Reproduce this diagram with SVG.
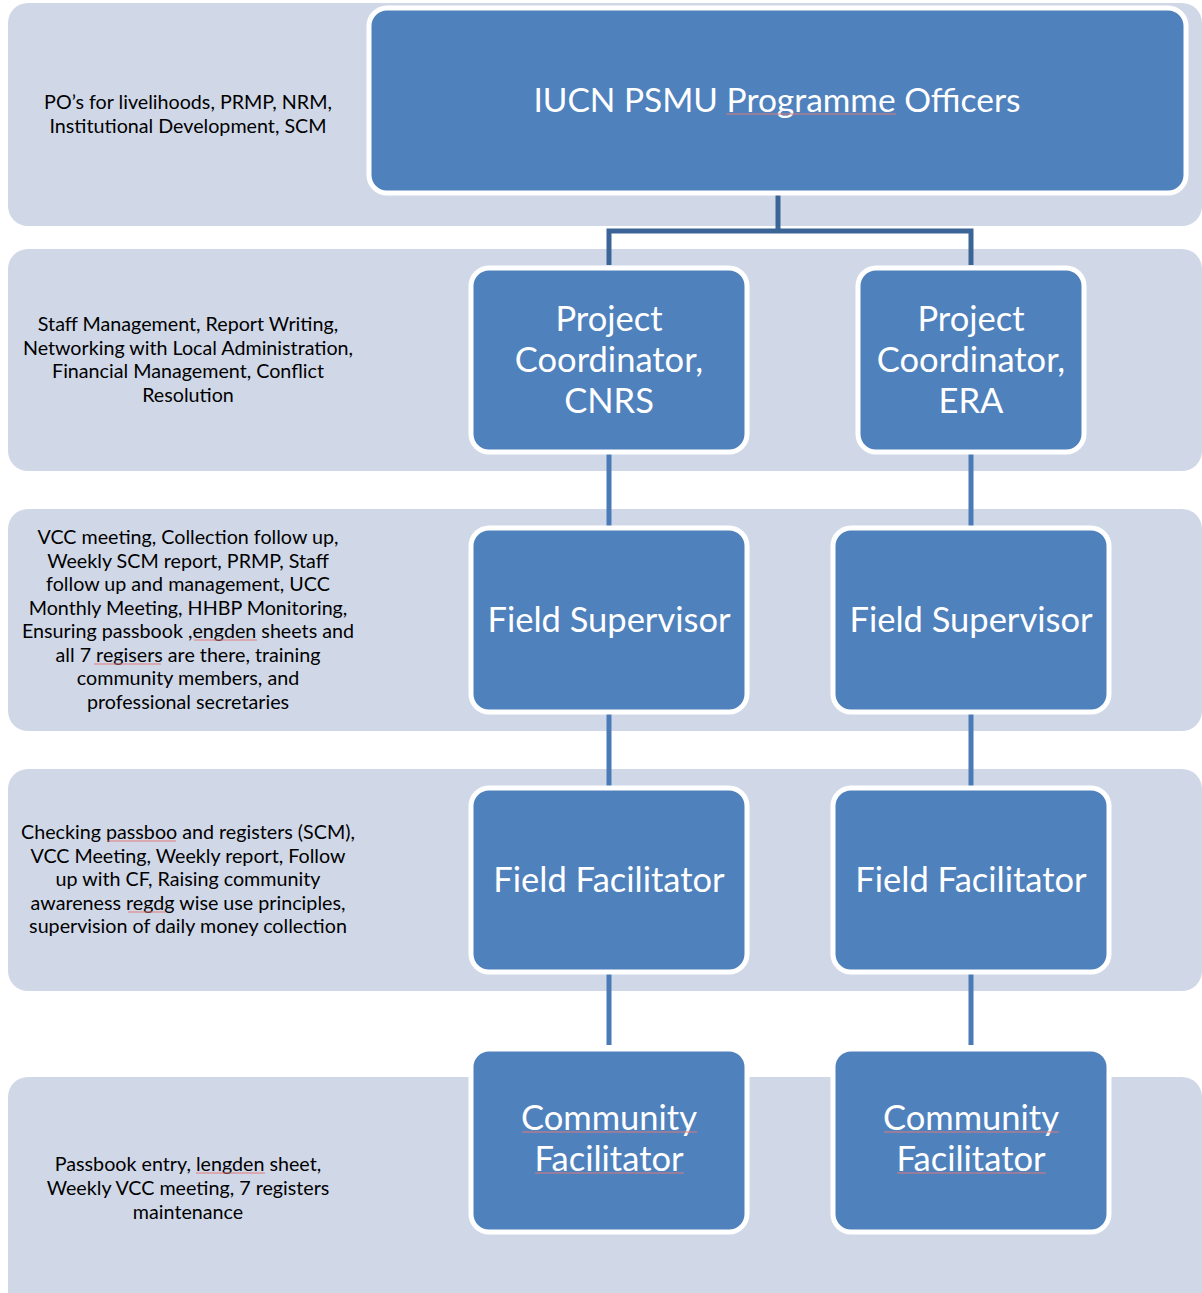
<svg xmlns="http://www.w3.org/2000/svg" width="1202" height="1293" viewBox="0 0 1202 1293">
<style>
.band{fill:#D0D8E8}
.node rect{fill:#4F81BD;stroke:#FFFFFF;stroke-width:5}
.nt{font-family:Lato,"Liberation Sans",sans-serif;font-size:34.5px;fill:#FFFFFF;text-anchor:middle}
.tt{font-size:33.5px}
.lt{font-family:Lato,"Liberation Sans",sans-serif;font-size:19.7px;fill:#000000;text-anchor:middle}
.conn{stroke:#4A7BB7;stroke-width:5;fill:none}
.conn-top{stroke:#3C6597;stroke-width:5;fill:none}
.sq{stroke:#E07A7A;stroke-width:1;fill:none}
</style>
<rect width="1202" height="1293" fill="#FFFFFF"/>
<g id="bands">
<rect class="band" x="8" y="3" width="1194" height="223" rx="20"/>
<rect class="band" x="8" y="249" width="1194" height="222" rx="20"/>
<rect class="band" x="8" y="509" width="1194" height="222" rx="20"/>
<rect class="band" x="8" y="769" width="1194" height="222" rx="20"/>
<rect class="band" x="8" y="1077" width="1194" height="260" rx="20"/>
</g>
<g id="connectors">
<path class="conn-top" d="M778 193 V231 M609 265 V231 H971 V265"/>
<path class="conn" d="M609 454 V526 M971 454 V526 M609 713 V786 M971 713 V786 M609 973 V1045 M971 973 V1045"/>
</g>
<g id="node-iucn" class="node">
<rect x="369" y="8" width="817" height="185" rx="18"/>
<text class="nt tt" x="777" y="112">IUCN PSMU Programme Officers</text>
<line class="sq" x1="726" y1="114" x2="896" y2="114"/>
</g>
<g id="node-pc-cnrs" class="node">
<rect x="471" y="268" width="276" height="184" rx="18"/>
<text class="nt" x="609" y="331">Project</text>
<text class="nt" x="609" y="372">Coordinator,</text>
<text class="nt" x="609" y="413">CNRS</text>
</g>
<g id="node-pc-era" class="node">
<rect x="858" y="268" width="226" height="184" rx="18"/>
<text class="nt" x="971" y="331">Project</text>
<text class="nt" x="971" y="372">Coordinator,</text>
<text class="nt" x="971" y="413">ERA</text>
</g>
<g id="node-fs-left" class="node">
<rect x="471" y="528" width="276" height="184" rx="18"/>
<text class="nt" x="609" y="632">Field Supervisor</text>
</g>
<g id="node-fs-right" class="node">
<rect x="833" y="528" width="276" height="184" rx="18"/>
<text class="nt" x="971" y="632">Field Supervisor</text>
</g>
<g id="node-ff-left" class="node">
<rect x="471" y="788" width="276" height="184" rx="18"/>
<text class="nt" x="609" y="892">Field Facilitator</text>
</g>
<g id="node-ff-right" class="node">
<rect x="833" y="788" width="276" height="184" rx="18"/>
<text class="nt" x="971" y="892">Field Facilitator</text>
</g>
<g id="node-cf-left" class="node">
<rect x="471" y="1049" width="276" height="183" rx="18"/>
<text class="nt" x="609" y="1130">Community</text>
<text class="nt" x="609" y="1171">Facilitator</text>
<line class="sq" x1="522" y1="1132" x2="697" y2="1132"/>
<line class="sq" x1="535" y1="1173" x2="684" y2="1173"/>
</g>
<g id="node-cf-right" class="node">
<rect x="833" y="1049" width="276" height="183" rx="18"/>
<text class="nt" x="971" y="1130">Community</text>
<text class="nt" x="971" y="1171">Facilitator</text>
<line class="sq" x1="884" y1="1132" x2="1059" y2="1132"/>
<line class="sq" x1="897" y1="1173" x2="1046" y2="1173"/>
</g>
<g id="label-1">
<text class="lt" x="188" y="109">PO’s for livelihoods, PRMP, NRM,</text>
<text class="lt" x="188" y="133">Institutional Development, SCM</text>
</g>
<g id="label-2">
<text class="lt" x="188" y="331">Staff Management, Report Writing,</text>
<text class="lt" x="188" y="355">Networking with Local Administration,</text>
<text class="lt" x="188" y="378">Financial Management, Conflict</text>
<text class="lt" x="188" y="402">Resolution</text>
</g>
<g id="label-3">
<text class="lt" x="188" y="544">VCC meeting, Collection follow up,</text>
<text class="lt" x="188" y="568">Weekly SCM report, PRMP, Staff</text>
<text class="lt" x="188" y="591">follow up and management, UCC</text>
<text class="lt" x="188" y="615">Monthly Meeting, HHBP Monitoring,</text>
<text class="lt" x="188" y="638">Ensuring passbook ,engden sheets and</text>
<text class="lt" x="188" y="662">all 7 regisers are there, training</text>
<text class="lt" x="188" y="685">community members, and</text>
<text class="lt" x="188" y="709">professional secretaries</text>
<line class="sq" x1="194" y1="640" x2="257" y2="640"/>
<line class="sq" x1="94" y1="664" x2="161" y2="664"/>
</g>
<g id="label-4">
<text class="lt" x="188" y="839">Checking passboo and registers (SCM),</text>
<text class="lt" x="188" y="863">VCC Meeting, Weekly report, Follow</text>
<text class="lt" x="188" y="886">up with CF, Raising community</text>
<text class="lt" x="188" y="910">awareness regdg wise use principles,</text>
<text class="lt" x="188" y="933">supervision of daily money collection</text>
<line class="sq" x1="107" y1="841" x2="176" y2="841"/>
<line class="sq" x1="128" y1="912" x2="165" y2="912"/>
</g>
<g id="label-5">
<text class="lt" x="188" y="1171">Passbook entry, lengden sheet,</text>
<text class="lt" x="188" y="1195">Weekly VCC meeting, 7 registers</text>
<text class="lt" x="188" y="1219">maintenance</text>
<line class="sq" x1="196" y1="1173" x2="265" y2="1173"/>
</g>
</svg>
